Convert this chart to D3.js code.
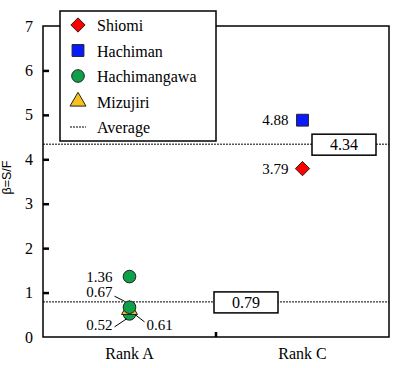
<!DOCTYPE html>
<html>
<head>
<meta charset="utf-8">
<script src="https://cdn.jsdelivr.net/npm/d3@7"></script>
<style>
  body { margin: 0; background: #fff; }
  svg text { font-family: "Liberation Serif", "Times New Roman", "DejaVu Serif", serif; }
</style>
</head>
<body>
<svg id="chart" width="400" height="368"></svg>
<script>
// chart values
var ranks = ["Rank A", "Rank C"];
var yTicks = [0, 1, 2, 3, 4, 5, 6, 7];
var shiomi = [{rank: "Rank C", v: 3.79}];
var hachiman = [{rank: "Rank C", v: 4.88}];
var hachimangawa = [{rank: "Rank A", v: 0.52}, {rank: "Rank A", v: 0.67}, {rank: "Rank A", v: 1.36}];
var mizujiri = [{rank: "Rank A", v: 0.61}];
var averages = [0.79, 4.34];
var legendNames = ["Shiomi", "Hachiman", "Hachimangawa", "Mizujiri", "Average"];

var serif = "'Liberation Serif', 'Times New Roman', 'DejaVu Serif', serif";

var margin = {top: 26, right: 11, bottom: 31, left: 43},
	width = 400 - margin.left - margin.right,
	height = 368 - margin.top - margin.bottom;

var x = d3.scalePoint().domain(ranks).range([0, width]).padding(0.5);
var y = d3.scaleLinear().domain([0, 7]).range([height, 0]);

var svg = d3.select("#chart")
  .append("g")
	.attr("transform", "translate(" + margin.left + "," + margin.top + ")");

// frame
svg.append("rect")
	.attr("width", width)
	.attr("height", height)
	.attr("fill", "none")
	.attr("stroke", "#000")
	.attr("stroke-width", 1.5);

// y axis, ticks pointing inward
var yAxis = svg.append("g")
	.call(d3.axisLeft(y).tickValues(yTicks).tickSize(-6).tickPadding(10).tickFormat(d3.format("d")));
yAxis.attr("font-family", serif);
yAxis.select(".domain").remove();
yAxis.selectAll(".tick line").attr("stroke-width", 2.5)
	.filter(function(d) { return d === 0 || d === 7; }).remove();
yAxis.selectAll(".tick text")
	.style("font-family", serif)
	.attr("font-size", 16)
	.attr("fill", "#000");

// x axis labels and middle tick
ranks.forEach(function(r) {
	svg.append("text")
		.attr("x", x(r))
		.attr("y", height + 22)
		.attr("text-anchor", "middle")
		.attr("font-size", 16)
		.text(r);
});
svg.append("line")
	.attr("x1", width / 2).attr("x2", width / 2)
	.attr("y1", height).attr("y2", height - 5)
	.attr("stroke", "#000")
	.attr("stroke-width", 2.5);

// y title
svg.append("text")
	.attr("transform", "translate(-32," + (height / 2 - 4) + ") rotate(-90)")
	.attr("text-anchor", "middle")
	.style("font-family", "'Liberation Sans', Arial, sans-serif")
	.attr("font-size", 12.5)
	.text("β=S/F");

// average lines with boxed labels
var avgBoxX = [width / 2 + 30, width - 45];
averages.forEach(function(a, i) {
	svg.append("line")
		.attr("x1", 0).attr("x2", width)
		.attr("y1", y(a)).attr("y2", y(a))
		.attr("stroke", "#000")
		.attr("stroke-width", 1)
		.attr("stroke-dasharray", "2,1");
	svg.append("rect")
		.attr("x", avgBoxX[i] - 32)
		.attr("y", y(a) - 10)
		.attr("width", 64)
		.attr("height", 21)
		.attr("fill", "#fff")
		.attr("stroke", "#000")
		.attr("stroke-width", 1.5);
	svg.append("text")
		.attr("x", avgBoxX[i])
		.attr("y", y(a) + 6)
		.attr("text-anchor", "middle")
		.attr("font-size", 16)
		.text(d3.format(".2f")(a));
});

// marker shapes
var symDiamond = d3.symbol().type(d3.symbolDiamond2).size(130);
var symSquare = d3.symbol().type(d3.symbolSquare).size(140);
var symCircle = d3.symbol().type(d3.symbolCircle).size(125);
var symTri = d3.symbol().type(d3.symbolTriangle).size(110);

function drawPoints(data, sym, fill) {
	svg.selectAll(null)
		.data(data)
		.enter().append("path")
		.attr("d", sym)
		.attr("transform", function(d) { return "translate(" + x(d.rank) + "," + y(d.v) + ")"; })
		.attr("fill", fill)
		.attr("stroke", "#222")
		.attr("stroke-width", 1);
}

drawPoints(hachimangawa.slice(0, 1), symCircle, "#0fa04b");
drawPoints(mizujiri, symTri, "#f7c21b");
drawPoints(hachimangawa.slice(1), symCircle, "#0fa04b");
drawPoints(hachiman, symSquare, "#0a1aff");
drawPoints(shiomi, symDiamond, "#ff0000");

// value labels with optional leader lines
var labels = [
	{d: shiomi[0], dx: -14, dy: 0, anchor: "end"},
	{d: hachiman[0], dx: -14, dy: 0, anchor: "end"},
	{d: hachimangawa[2], dx: -17, dy: 0, anchor: "end"},
	{d: hachimangawa[1], dx: -17, dy: -15, anchor: "end", lead: [-15, -11, -5, -6]},
	{d: hachimangawa[0], dx: -17, dy: 11, anchor: "end", lead: [-15, 13, -3, 5]},
	{d: mizujiri[0], dx: 17, dy: 15, anchor: "start", lead: [6, 5, 15, 12]}
];
labels.forEach(function(l) {
	var px = x(l.d.rank), py = y(l.d.v);
	svg.append("text")
		.attr("x", px + l.dx)
		.attr("y", py + l.dy + 5)
		.attr("text-anchor", l.anchor)
		.attr("font-size", 15)
		.text(d3.format(".2f")(l.d.v));
	if (l.lead) {
		svg.append("line")
			.attr("x1", px + l.lead[0]).attr("y1", py + l.lead[1])
			.attr("x2", px + l.lead[2]).attr("y2", py + l.lead[3])
			.attr("stroke", "#000")
			.attr("stroke-width", 1);
	}
});

// legend
var legend = d3.select("#chart").append("g").attr("transform", "translate(60,11)");
legend.append("rect")
	.attr("width", 156)
	.attr("height", 130)
	.attr("fill", "#fff")
	.attr("stroke", "#000")
	.attr("stroke-width", 1.5);
var legendSyms = [
	{sym: symDiamond, fill: "#ff0000"},
	{sym: symSquare, fill: "#0a1aff"},
	{sym: symCircle, fill: "#0fa04b"},
	{sym: symTri, fill: "#f7c21b"},
	null
];
legendNames.forEach(function(name, i) {
	var cy = 14 + i * 25.5;
	var s = legendSyms[i];
	if (s) {
		legend.append("path")
			.attr("d", s.sym)
			.attr("transform", "translate(18," + cy + ")")
			.attr("fill", s.fill)
			.attr("stroke", "#222")
			.attr("stroke-width", 1);
	} else {
		legend.append("line")
			.attr("x1", 10).attr("x2", 26)
			.attr("y1", cy).attr("y2", cy)
			.attr("stroke", "#000")
			.attr("stroke-width", 1)
			.attr("stroke-dasharray", "2,1");
	}
	legend.append("text")
		.attr("x", 37)
		.attr("y", cy + 6)
		.attr("font-size", 16)
		.text(name);
});
</script>
</body>
</html>
